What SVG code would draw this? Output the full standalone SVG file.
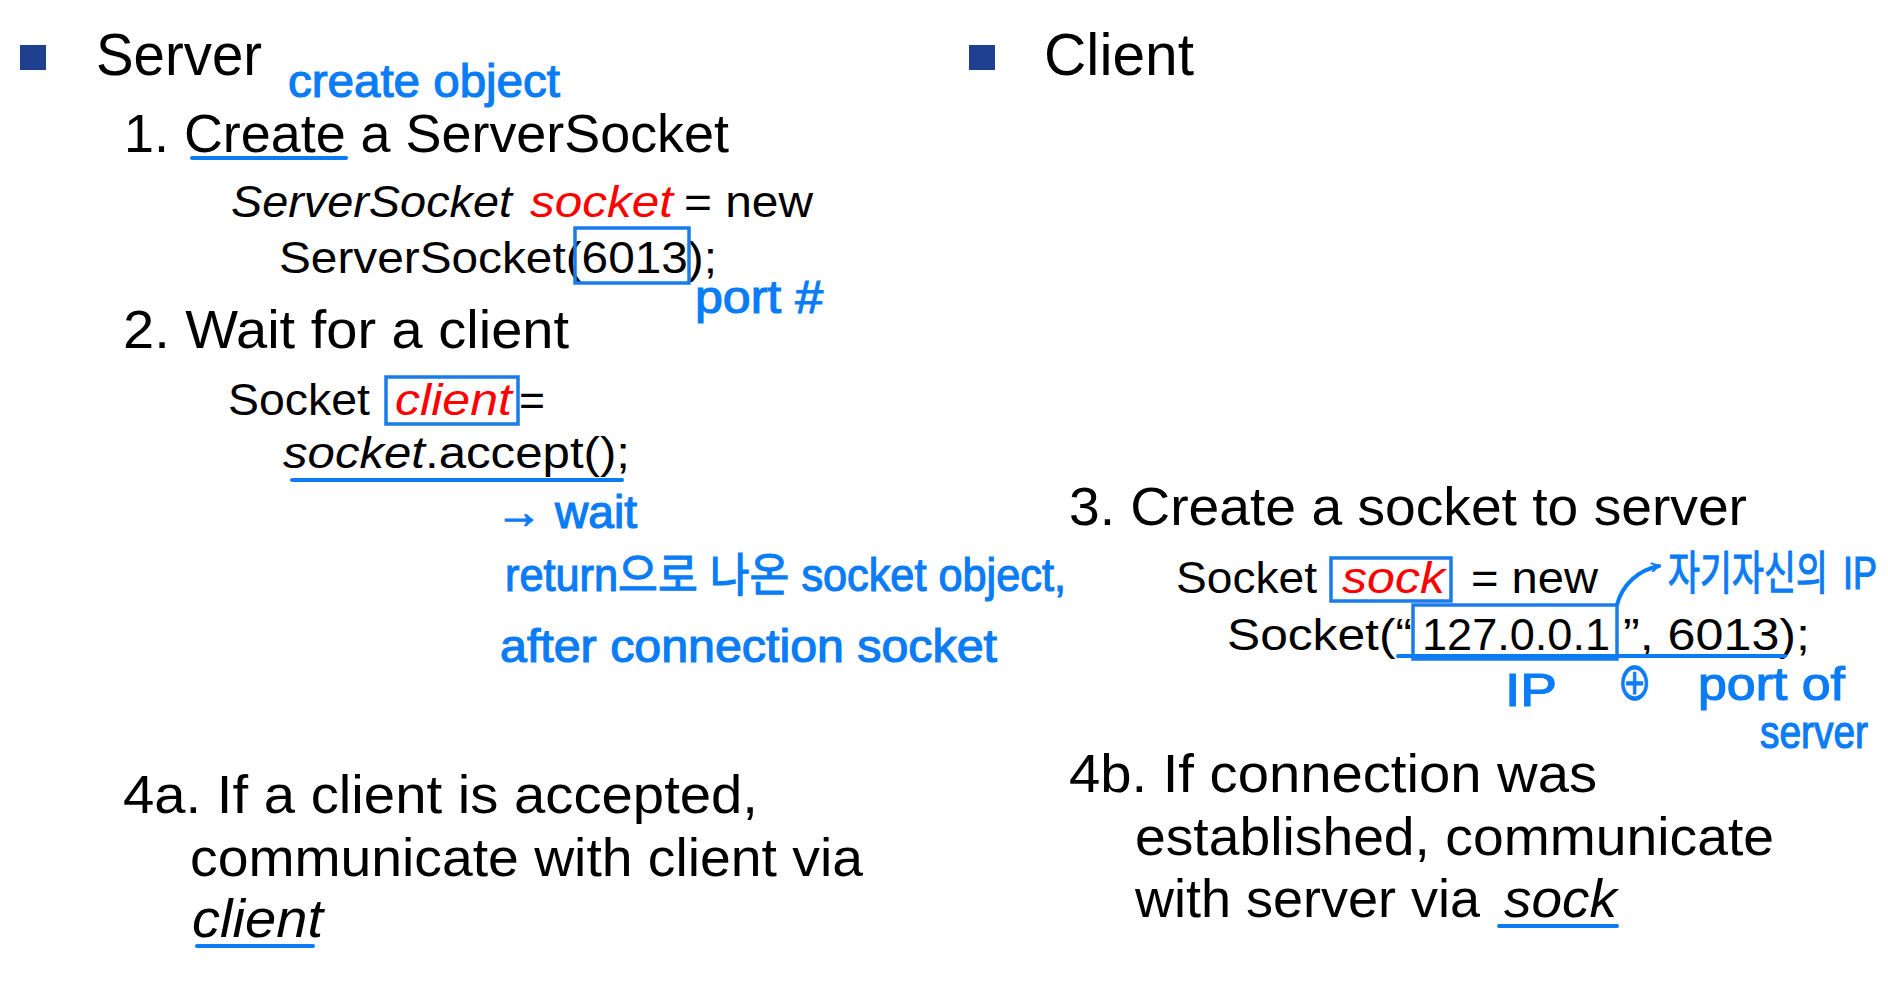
<svg xmlns="http://www.w3.org/2000/svg" width="1888" height="1000" viewBox="0 0 1888 1000">
<style>
.t{font-family:"Liberation Sans",Arial,sans-serif;fill:#000}
.h{font-size:59px}
.m{font-size:54px}
.c{font-size:45px}
.i{font-style:italic}
.r{fill:#ff0000}
.hw{font-family:"Liberation Sans","Noto Sans CJK KR",sans-serif;fill:#0a7cf5;stroke:#0a7cf5;stroke-width:1.2;font-size:46px}
.bx{fill:none;stroke:#1a7ceb;stroke-width:3.5}
.ul{stroke:#0a7cf5;stroke-width:4;stroke-linecap:round;fill:none}
.bul{fill:#1f3f8f}
</style>
<defs>
<marker id="arr" viewBox="0 0 10 10" refX="8" refY="5" markerWidth="10" markerHeight="10" markerUnits="userSpaceOnUse" orient="auto">
<path d="M1,1 L8,5 L1,9" fill="none" stroke="#0a7cf5" stroke-width="2" stroke-linecap="round"/>
</marker>
</defs>
<rect width="1888" height="1000" fill="#fff"/>

<g id="server">
<rect class="bul" x="20" y="45" width="26" height="25"/>
<text class="t h" x="96" y="75" textLength="166" lengthAdjust="spacingAndGlyphs">Server</text>
</g>

<g id="step1">
<text class="t m" x="124" y="152" textLength="605" lengthAdjust="spacingAndGlyphs">1. Create a ServerSocket</text>
<text class="t c i" x="231" y="217" textLength="281" lengthAdjust="spacingAndGlyphs">ServerSocket</text>
<text class="t c i r" x="530" y="217" textLength="143" lengthAdjust="spacingAndGlyphs">socket</text>
<text class="t c" x="684" y="217" textLength="129" lengthAdjust="spacingAndGlyphs">= new</text>
<text class="t c" x="279" y="273" textLength="438" lengthAdjust="spacingAndGlyphs">ServerSocket(6013);</text>
<rect class="bx" x="575" y="228" width="114" height="55"/>
</g>

<g id="step2">
<text class="t m" x="123" y="348" textLength="446" lengthAdjust="spacingAndGlyphs">2. Wait for a client</text>
<text class="t c" x="228" y="415" textLength="142" lengthAdjust="spacingAndGlyphs">Socket</text>
<text class="t c i r" x="395" y="415" textLength="117" lengthAdjust="spacingAndGlyphs">client</text>
<rect class="bx" x="386" y="377" width="132" height="47"/>
<text class="t c" x="519" y="415" textLength="26" lengthAdjust="spacingAndGlyphs">=</text>
<text class="t c i" x="283" y="468" textLength="142" lengthAdjust="spacingAndGlyphs">socket</text>
<text class="t c" x="425" y="468" textLength="205" lengthAdjust="spacingAndGlyphs">.accept();</text>
</g>

<g id="step4a">
<text class="t m" x="123" y="813" textLength="635" lengthAdjust="spacingAndGlyphs">4a. If a client is accepted,</text>
<text class="t m" x="190" y="876" textLength="673" lengthAdjust="spacingAndGlyphs">communicate with client via</text>
<text class="t m i" x="192" y="937" textLength="131" lengthAdjust="spacingAndGlyphs">client</text>
</g>

<g id="client">
<rect class="bul" x="969" y="45" width="26" height="25"/>
<text class="t h" x="1044" y="75" textLength="150" lengthAdjust="spacingAndGlyphs">Client</text>
</g>

<g id="step3">
<text class="t m" x="1069" y="525" textLength="678" lengthAdjust="spacingAndGlyphs">3. Create a socket to server</text>
<text class="t c" x="1176" y="593" textLength="141" lengthAdjust="spacingAndGlyphs">Socket</text>
<text class="t c i r" x="1342" y="593" textLength="103" lengthAdjust="spacingAndGlyphs">sock</text>
<rect class="bx" x="1331" y="558" width="120" height="43"/>
<text class="t c" x="1471" y="593" textLength="127" lengthAdjust="spacingAndGlyphs">= new</text>
<text class="t c" x="1227" y="650" textLength="185" lengthAdjust="spacingAndGlyphs">Socket(“</text>
<text class="t c" x="1422" y="650" textLength="188" lengthAdjust="spacingAndGlyphs">127.0.0.1</text>
<text class="t c" x="1623" y="650" textLength="187" lengthAdjust="spacingAndGlyphs">”, 6013);</text>
<rect class="bx" x="1413" y="605" width="204" height="54"/>
</g>

<g id="step4b">
<text class="t m" x="1069" y="792" textLength="528" lengthAdjust="spacingAndGlyphs">4b. If connection was</text>
<text class="t m" x="1135" y="855" textLength="639" lengthAdjust="spacingAndGlyphs">established, communicate</text>
<text class="t m" x="1135" y="917" textLength="345" lengthAdjust="spacingAndGlyphs">with server via</text>
<text class="t m i" x="1504" y="917" textLength="113" lengthAdjust="spacingAndGlyphs">sock</text>
</g>

<g id="annotations">
<text class="hw" x="288" y="97" font-size="50" textLength="272" lengthAdjust="spacingAndGlyphs">create object</text>
<text class="hw" x="695" y="313" textLength="128" lengthAdjust="spacingAndGlyphs">port #</text>
<text class="hw" x="496" y="528" font-size="44" textLength="141" lengthAdjust="spacingAndGlyphs">→ wait</text>
<text class="hw" x="505" y="591" font-size="48" textLength="561" lengthAdjust="spacingAndGlyphs">return으로 나온 socket object,</text>
<text class="hw" x="500" y="662" font-size="50" textLength="497" lengthAdjust="spacingAndGlyphs">after connection socket</text>
<text class="hw" x="1668" y="589" font-size="32" textLength="160" lengthAdjust="spacingAndGlyphs">자기자신의</text>
<text class="hw" x="1843" y="589" font-size="36" textLength="34" lengthAdjust="spacingAndGlyphs">IP</text>
<text class="hw" x="1505" y="706" font-size="46" textLength="52" lengthAdjust="spacingAndGlyphs">IP</text>
<text class="hw" x="1617" y="700" font-size="48" textLength="35" lengthAdjust="spacingAndGlyphs">⊕</text>
<text class="hw" x="1698" y="700" font-size="50" textLength="147" lengthAdjust="spacingAndGlyphs">port of</text>
<text class="hw" x="1760" y="748" font-size="54" textLength="108" lengthAdjust="spacingAndGlyphs">server</text>
</g>

<g id="connectors">
<line class="ul" x1="192" y1="158" x2="346" y2="158"/>
<line class="ul" x1="292" y1="480" x2="622" y2="480"/>
<line class="ul" x1="197" y1="946" x2="313" y2="946"/>
<line class="ul" x1="1398" y1="656" x2="1785" y2="656"/>
<line class="ul" x1="1499" y1="926" x2="1617" y2="926"/>
<path class="ul" d="M1617,605 C1622,585 1638,570 1659,566" marker-end="url(#arr)"/>
</g>
</svg>
